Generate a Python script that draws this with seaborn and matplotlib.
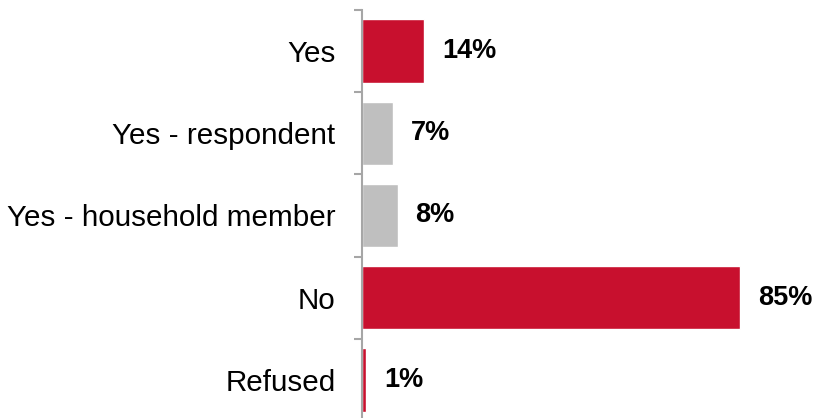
import pandas as pd
import seaborn as sns
import matplotlib.pyplot as plt

sns.set_style("white")
plt.rcParams['font.family'] = ['Liberation Sans', 'DejaVu Sans']
plt.rcParams['text.color'] = 'black'
plt.rcParams['ytick.color'] = 'black'

# Data
categories = ["Yes", "Yes - respondent", "Yes - household member", "No", "Refused"]
values = [14, 7, 8, 85, 1]
bar_colors = ["#C8102E", "#BFBFBF", "#BFBFBF", "#C8102E", "#C8102E"]

df = pd.DataFrame({"category": categories, "value": values})

fig = plt.figure(figsize=(8.13, 4.18), dpi=100)
ax = fig.add_axes([362 / 813, -3 / 418, 444.7 / 813, 411 / 418])

sns.barplot(data=df, y="category", x="value", hue="category", palette=bar_colors,
            legend=False, orient="h", width=0.77, ax=ax, saturation=1)

ax.set_xlim(0, 100)
ax.set_ylim(4.5, -0.5)
ax.set_xlabel("")
ax.set_ylabel("")
ax.set_xticks([])

for s in ["top", "right", "bottom"]:
    ax.spines[s].set_visible(False)
ax.spines["left"].set_color("#A6A6A6")
ax.spines["left"].set_linewidth(1.5)

ax.tick_params(axis="y", which="major", length=0, pad=19, labelsize=21.3, labelcolor="black")
ax.set_yticks([i + 0.5 for i in range(-1, 5)], minor=True)
ax.tick_params(axis="y", which="minor", left=True, length=6, width=1.5,
               color="#A6A6A6", direction="out")

for i, v in enumerate(values):
    ax.text(v + 4, i, f"{v}%", va="center", ha="left", fontsize=19.5,
            fontweight="bold", color="black")

fig.savefig("out.png", dpi=100)
